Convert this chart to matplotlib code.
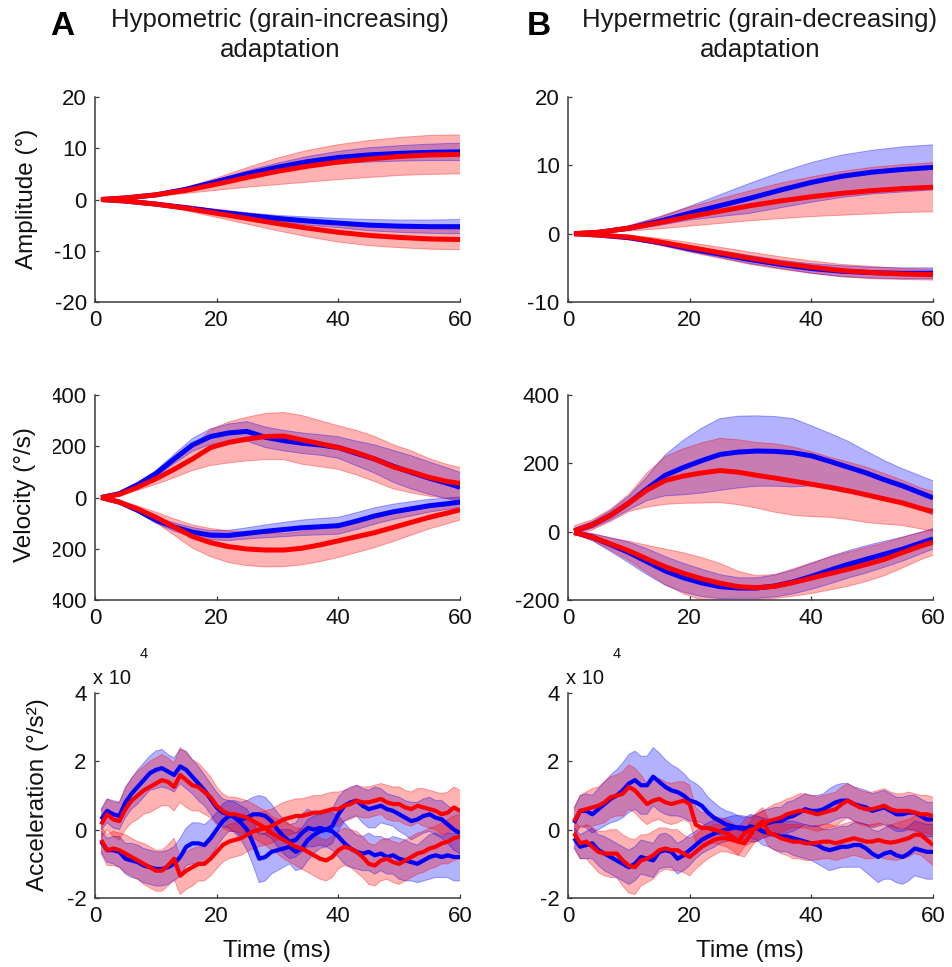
import numpy as np
import matplotlib
matplotlib.use("Agg")
import matplotlib.pyplot as plt
from matplotlib.patches import Rectangle

plt.rcParams['font.family'] = ['Liberation Sans', 'DejaVu Sans']
plt.rcParams['axes.unicode_minus'] = False

# ---------------------------------------------------------------- sample times (ms)
t_amp = [1, 5, 10, 15, 20, 25, 30, 35, 40, 45, 50, 55, 60]
t_vel = [1, 4, 7, 10, 13, 16, 19, 22, 25, 28, 31, 34, 37, 40, 43, 46, 49, 52, 55, 58, 60]
t_acc = list(range(1, 61))

# ---------------------------------------------------------------- amplitude (deg), column A
amp_a_up_blue = [0, 0.3, 0.9, 2.0, 3.5, 5.0, 6.3, 7.4, 8.2, 8.7, 9.0, 9.2, 9.3]
amp_a_up_blue_sd = [0.1, 0.15, 0.2, 0.3, 0.4, 0.6, 0.8, 1.0, 1.2, 1.4, 1.5, 1.6, 1.7]
amp_a_up_red = [0, 0.3, 0.9, 1.8, 3.0, 4.3, 5.5, 6.5, 7.3, 7.9, 8.4, 8.7, 8.8]
amp_a_up_red_sd = [0.1, 0.2, 0.3, 0.6, 1.2, 1.9, 2.6, 3.1, 3.4, 3.6, 3.7, 3.8, 3.8]
amp_a_dn_blue = [0, -0.3, -0.9, -1.6, -2.4, -3.1, -3.7, -4.2, -4.6, -5.0, -5.2, -5.3, -5.3]
amp_a_dn_blue_sd = [0.1, 0.1, 0.2, 0.3, 0.4, 0.5, 0.6, 0.8, 0.9, 1.1, 1.2, 1.3, 1.4]
amp_a_dn_red = [0, -0.3, -0.9, -1.7, -2.7, -3.7, -4.7, -5.6, -6.4, -7.0, -7.4, -7.7, -7.8]
amp_a_dn_red_sd = [0.1, 0.2, 0.3, 0.5, 0.8, 1.1, 1.4, 1.7, 1.9, 2.0, 2.0, 2.0, 2.0]

# ---------------------------------------------------------------- amplitude (deg), column B
amp_b_up_blue = [0, 0.2, 0.8, 1.8, 3.0, 4.1, 5.2, 6.4, 7.5, 8.4, 9.0, 9.4, 9.7]
amp_b_up_blue_sd = [0.1, 0.1, 0.3, 0.6, 1.0, 1.6, 2.2, 2.6, 2.9, 3.1, 3.2, 3.3, 3.3]
amp_b_up_red = [0, 0.2, 0.8, 1.6, 2.5, 3.3, 4.1, 4.8, 5.4, 5.9, 6.3, 6.6, 6.8]
amp_b_up_red_sd = [0.1, 0.1, 0.4, 0.9, 1.4, 1.8, 2.2, 2.6, 2.9, 3.2, 3.4, 3.5, 3.6]
amp_b_dn_blue = [0, -0.2, -0.6, -1.3, -2.2, -3.0, -3.8, -4.5, -5.1, -5.5, -5.7, -5.8, -5.8]
amp_b_dn_blue_sd = [0.1, 0.1, 0.2, 0.3, 0.4, 0.5, 0.6, 0.6, 0.7, 0.8, 0.8, 0.8, 0.8]
amp_b_dn_red = [0, -0.2, -0.5, -1.2, -2.0, -2.8, -3.6, -4.3, -4.9, -5.4, -5.7, -5.9, -6.0]
amp_b_dn_red_sd = [0.1, 0.1, 0.3, 0.5, 0.7, 0.8, 0.9, 0.9, 0.9, 0.9, 0.9, 0.8, 0.8]

# ---------------------------------------------------------------- velocity (deg/s), column A
vel_a_up_blue = [0, 15, 50, 93, 150, 205, 238, 252, 258, 235, 222, 212, 205, 195, 172, 150, 122, 98, 75, 55, 40]
vel_a_up_blue_sd = [3, 5, 8, 12, 18, 25, 30, 35, 38, 40, 40, 40, 40, 42, 48, 55, 62, 65, 63, 60, 58]
vel_a_up_red = [0, 12, 40, 73, 110, 150, 195, 215, 228, 238, 240, 225, 210, 195, 175, 150, 120, 100, 78, 62, 55]
vel_a_up_red_sd = [3, 6, 12, 22, 33, 45, 70, 80, 85, 90, 92, 95, 90, 85, 87, 88, 86, 82, 73, 66, 62]
vel_a_dn_blue = [0, -18, -50, -88, -115, -135, -147, -148, -140, -132, -125, -118, -114, -110, -92, -72, -56, -44, -32, -24, -18]
vel_a_dn_blue_sd = [3, 5, 8, 12, 16, 18, 18, 20, 22, 25, 28, 30, 32, 33, 33, 32, 30, 28, 25, 22, 20]
vel_a_dn_red = [0, -18, -45, -77, -115, -152, -176, -192, -201, -205, -205, -198, -185, -169, -153, -137, -117, -97, -77, -60, -48]
vel_a_dn_red_sd = [3, 6, 12, 20, 32, 45, 55, 62, 65, 66, 65, 65, 65, 65, 62, 58, 55, 50, 45, 42, 40]

# ---------------------------------------------------------------- velocity (deg/s), column B
vel_b_up_blue = [2, 20, 48, 84, 126, 165, 188, 208, 226, 233, 236, 235, 231, 222, 206, 189, 172, 152, 134, 113, 99]
vel_b_up_blue_sd = [8, 10, 14, 20, 35, 60, 80, 95, 105, 105, 103, 102, 100, 88, 82, 76, 64, 56, 50, 50, 50]
vel_b_up_red = [2, 20, 48, 84, 122, 150, 163, 172, 179, 174, 165, 157, 148, 139, 130, 120, 108, 96, 84, 68, 59]
vel_b_up_red_sd = [15, 15, 18, 25, 50, 70, 80, 88, 94, 95, 96, 100, 100, 95, 88, 84, 81, 74, 66, 60, 58]
vel_b_dn_blue = [-2, -16, -38, -61, -88, -115, -135, -150, -161, -165, -165, -159, -147, -131, -113, -96, -81, -66, -51, -33, -21]
vel_b_dn_blue_sd = [5, 10, 20, 30, 38, 42, 42, 40, 35, 30, 30, 32, 35, 38, 40, 40, 40, 38, 35, 32, 30]
vel_b_dn_red = [-2, -16, -36, -56, -80, -103, -122, -138, -151, -161, -164, -160, -149, -136, -123, -110, -96, -81, -61, -42, -31]
vel_b_dn_red_sd = [5, 10, 18, 28, 40, 52, 60, 62, 58, 45, 35, 35, 40, 45, 48, 50, 50, 48, 45, 40, 38]

# ---------------------------------------------------------------- acceleration (x 10^4 deg/s^2), column A
acc_a_up_blue = [0.3, 0.55, 0.45, 0.4, 0.8, 1.05, 1.25, 1.45, 1.65, 1.75,
                 1.8, 1.7, 1.6, 1.85, 1.75, 1.55, 1.35, 1.15, 0.9, 0.65,
                 0.5, 0.45, 0.35, 0.2, 0.0, -0.4, -0.85, -0.8, -0.65, -0.6,
                 -0.55, -0.5, -0.65, -0.55, -0.3, -0.15, -0.05, 0.0, -0.05, -0.2,
                 -0.4, -0.55, -0.65, -0.7, -0.65, -0.75, -0.7, -0.8, -0.75, -0.85,
                 -0.9, -0.95, -1.0, -0.9, -0.8, -0.75, -0.8, -0.75, -0.8, -0.8]
acc_a_up_blue_sd = [0.3, 0.35, 0.4, 0.4, 0.45, 0.45, 0.5, 0.5, 0.5, 0.55,
                    0.55, 0.5, 0.5, 0.5, 0.55, 0.5, 0.5, 0.45, 0.45, 0.45,
                    0.4, 0.4, 0.45, 0.5, 0.6, 0.65, 0.7, 0.7, 0.65, 0.6,
                    0.55, 0.5, 0.55, 0.6, 0.6, 0.55, 0.5, 0.5, 0.55, 0.6,
                    0.6, 0.55, 0.5, 0.5, 0.55, 0.55, 0.5, 0.5, 0.55, 0.6,
                    0.6, 0.55, 0.55, 0.6, 0.65, 0.65, 0.6, 0.65, 0.7, 0.7]
acc_a_up_red = [0.15, 0.45, 0.3, 0.25, 0.6, 0.85, 1.0, 1.15, 1.25, 1.35,
                1.45, 1.4, 1.25, 1.6, 1.45, 1.3, 1.25, 1.1, 0.95, 0.7,
                0.55, 0.45, 0.45, 0.4, 0.35, 0.25, 0.15, 0.05, -0.1, -0.2,
                -0.3, -0.4, -0.5, -0.55, -0.65, -0.75, -0.85, -0.9, -0.8, -0.6,
                -0.5, -0.55, -0.65, -0.8, -1.0, -1.05, -0.9, -0.85, -0.95, -1.0,
                -0.9, -0.8, -0.7, -0.65, -0.55, -0.5, -0.4, -0.35, -0.25, -0.2]
acc_a_up_red_sd = [0.4, 0.45, 0.5, 0.55, 0.6, 0.65, 0.7, 0.7, 0.75, 0.75,
                   0.75, 0.7, 0.7, 0.8, 0.8, 0.75, 0.7, 0.65, 0.6, 0.55,
                   0.5, 0.5, 0.5, 0.5, 0.5, 0.5, 0.5, 0.5, 0.5, 0.5,
                   0.55, 0.55, 0.55, 0.6, 0.6, 0.6, 0.6, 0.6, 0.6, 0.55,
                   0.55, 0.55, 0.6, 0.6, 0.6, 0.6, 0.6, 0.6, 0.6, 0.6,
                   0.6, 0.6, 0.6, 0.6, 0.6, 0.6, 0.6, 0.65, 0.65, 0.65]
acc_a_dn_blue = [-0.35, -0.6, -0.6, -0.65, -0.85, -0.9, -0.95, -1.05, -1.1, -1.15,
                 -1.15, -1.1, -1.0, -0.8, -0.5, -0.4, -0.4, -0.45, -0.25, 0.0,
                 0.25, 0.4, 0.4, 0.3, 0.35, 0.45, 0.45, 0.4, 0.25, 0.0,
                 -0.2, -0.35, -0.3, -0.1, 0.05, 0.0, 0.05, 0.0, 0.1, 0.45,
                 0.7, 0.8, 0.85, 0.7, 0.6, 0.65, 0.7, 0.6, 0.55, 0.45,
                 0.35, 0.25, 0.3, 0.4, 0.45, 0.35, 0.3, 0.15, 0.0, -0.1]
acc_a_dn_blue_sd = [0.3, 0.35, 0.4, 0.45, 0.45, 0.5, 0.5, 0.5, 0.5, 0.5,
                    0.5, 0.5, 0.5, 0.55, 0.55, 0.6, 0.6, 0.6, 0.55, 0.5,
                    0.5, 0.45, 0.45, 0.5, 0.5, 0.5, 0.55, 0.55, 0.5, 0.5,
                    0.5, 0.5, 0.5, 0.55, 0.55, 0.5, 0.5, 0.5, 0.5, 0.5,
                    0.45, 0.45, 0.45, 0.5, 0.55, 0.6, 0.5, 0.45, 0.45, 0.5,
                    0.5, 0.55, 0.5, 0.5, 0.5, 0.5, 0.55, 0.55, 0.6, 0.6]
acc_a_dn_red = [-0.3, -0.6, -0.55, -0.6, -0.7, -0.8, -0.9, -1.0, -1.1, -1.2,
                -1.2, -1.05, -0.85, -1.35, -1.2, -1.1, -1.0, -1.0, -0.85, -0.65,
                -0.45, -0.35, -0.3, -0.25, -0.15, -0.05, 0.0, 0.05, 0.1, 0.2,
                0.3, 0.35, 0.4, 0.4, 0.45, 0.5, 0.5, 0.55, 0.6, 0.6,
                0.7, 0.75, 0.85, 0.8, 0.8, 0.85, 0.9, 0.8, 0.75, 0.75,
                0.65, 0.6, 0.7, 0.65, 0.6, 0.55, 0.45, 0.5, 0.65, 0.55]
acc_a_dn_red_sd = [0.4, 0.45, 0.5, 0.5, 0.55, 0.55, 0.55, 0.6, 0.6, 0.6,
                   0.6, 0.6, 0.6, 0.55, 0.55, 0.55, 0.5, 0.5, 0.5, 0.5,
                   0.5, 0.5, 0.5, 0.5, 0.5, 0.5, 0.5, 0.5, 0.5, 0.5,
                   0.5, 0.5, 0.5, 0.5, 0.5, 0.5, 0.5, 0.5, 0.5, 0.5,
                   0.45, 0.45, 0.45, 0.45, 0.45, 0.45, 0.45, 0.5, 0.5, 0.5,
                   0.5, 0.5, 0.5, 0.55, 0.55, 0.55, 0.6, 0.6, 0.6, 0.6]

# ---------------------------------------------------------------- acceleration (x 10^4 deg/s^2), column B
acc_b_up_blue = [0.2, 0.55, 0.55, 0.45, 0.6, 0.75, 0.9, 1.0, 1.15, 1.35,
                 1.45, 1.3, 1.3, 1.55, 1.4, 1.25, 1.15, 1.1, 1.0, 0.85,
                 0.8, 0.7, 0.5, 0.35, 0.25, 0.15, 0.1, 0.05, 0.0, 0.1,
                 0.05, -0.05, -0.1, -0.15, -0.2, -0.2, -0.25, -0.3, -0.35, -0.4,
                 -0.45, -0.55, -0.6, -0.55, -0.5, -0.5, -0.45, -0.45, -0.55, -0.7,
                 -0.8, -0.7, -0.65, -0.75, -0.8, -0.7, -0.55, -0.6, -0.65, -0.65]
acc_b_up_blue_sd = [0.4, 0.45, 0.5, 0.55, 0.6, 0.65, 0.7, 0.75, 0.8, 0.85,
                    0.85, 0.85, 0.85, 0.85, 0.85, 0.8, 0.75, 0.7, 0.65, 0.6,
                    0.55, 0.5, 0.45, 0.45, 0.4, 0.4, 0.4, 0.35, 0.35, 0.35,
                    0.35, 0.4, 0.4, 0.45, 0.45, 0.45, 0.5, 0.5, 0.5, 0.5,
                    0.55, 0.55, 0.6, 0.6, 0.6, 0.6, 0.65, 0.65, 0.7, 0.7,
                    0.75, 0.75, 0.8, 0.8, 0.8, 0.8, 0.8, 0.8, 0.8, 0.8]
acc_b_up_red = [0.25, 0.55, 0.6, 0.65, 0.7, 0.8, 0.95, 1.0, 1.05, 1.25,
                1.15, 0.95, 0.75, 0.85, 0.9, 0.8, 0.75, 0.8, 0.85, 0.75,
                0.15, 0.05, 0.05, 0.0, -0.05, -0.1, -0.2, -0.35, -0.4, -0.15,
                0.1, 0.25, -0.1, -0.15, -0.25, -0.3, -0.35, -0.35, -0.4, -0.4,
                -0.38, -0.35, -0.35, -0.4, -0.35, -0.3, -0.25, -0.3, -0.35, -0.35,
                -0.3, -0.35, -0.38, -0.35, -0.3, -0.25, -0.15, -0.15, -0.3, -0.45]
acc_b_up_red_sd = [0.4, 0.45, 0.5, 0.55, 0.55, 0.6, 0.6, 0.6, 0.65, 0.65,
                   0.65, 0.65, 0.6, 0.6, 0.6, 0.6, 0.6, 0.6, 0.55, 0.55,
                   0.5, 0.45, 0.45, 0.4, 0.4, 0.4, 0.4, 0.4, 0.4, 0.4,
                   0.4, 0.4, 0.4, 0.45, 0.45, 0.45, 0.5, 0.5, 0.5, 0.5,
                   0.5, 0.5, 0.5, 0.5, 0.5, 0.5, 0.5, 0.5, 0.5, 0.5,
                   0.5, 0.5, 0.5, 0.55, 0.55, 0.55, 0.55, 0.6, 0.6, 0.6]
acc_b_dn_blue = [-0.25, -0.5, -0.45, -0.4, -0.6, -0.7, -0.8, -0.9, -1.0, -1.1,
                 -1.0, -0.8, -0.85, -0.9, -0.65, -0.6, -0.65, -0.85, -0.75, -0.6,
                 -0.45, -0.3, -0.2, -0.12, -0.05, 0.0, 0.05, 0.07, 0.05, 0.0,
                 0.05, 0.15, 0.2, 0.25, 0.25, 0.35, 0.4, 0.5, 0.6, 0.55,
                 0.55, 0.6, 0.7, 0.8, 0.85, 0.85, 0.75, 0.7, 0.65, 0.55,
                 0.6, 0.65, 0.55, 0.45, 0.45, 0.5, 0.5, 0.4, 0.3, 0.3]
acc_b_dn_blue_sd = [0.3, 0.35, 0.4, 0.45, 0.45, 0.5, 0.5, 0.5, 0.5, 0.5,
                    0.5, 0.5, 0.5, 0.5, 0.5, 0.5, 0.45, 0.45, 0.45, 0.45,
                    0.4, 0.4, 0.4, 0.4, 0.35, 0.35, 0.35, 0.35, 0.35, 0.35,
                    0.4, 0.4, 0.4, 0.4, 0.4, 0.45, 0.45, 0.45, 0.45, 0.45,
                    0.45, 0.45, 0.5, 0.5, 0.5, 0.5, 0.5, 0.5, 0.5, 0.5,
                    0.5, 0.5, 0.5, 0.5, 0.5, 0.5, 0.5, 0.5, 0.5, 0.5]
acc_b_dn_red = [-0.1, -0.4, -0.35, -0.5, -0.65, -0.7, -0.7, -0.7, -0.9, -1.05,
                -1.1, -0.9, -0.85, -0.75, -0.6, -0.55, -0.6, -0.6, -0.7, -0.8,
                -0.65, -0.5, -0.4, -0.3, -0.25, -0.25, -0.3, -0.35, -0.1, 0.0,
                0.05, 0.15, 0.25, 0.3, 0.35, 0.45, 0.5, 0.55, 0.55, 0.5,
                0.45, 0.5, 0.55, 0.6, 0.75, 0.85, 0.75, 0.65, 0.6, 0.6,
                0.65, 0.7, 0.6, 0.55, 0.55, 0.55, 0.5, 0.45, 0.45, 0.4]
acc_b_dn_red_sd = [0.4, 0.45, 0.5, 0.55, 0.6, 0.65, 0.7, 0.7, 0.75, 0.8,
                   0.8, 0.75, 0.7, 0.7, 0.65, 0.6, 0.6, 0.6, 0.55, 0.55,
                   0.5, 0.5, 0.45, 0.45, 0.4, 0.4, 0.4, 0.4, 0.4, 0.4,
                   0.4, 0.4, 0.4, 0.45, 0.45, 0.45, 0.45, 0.5, 0.5, 0.5,
                   0.5, 0.5, 0.5, 0.5, 0.5, 0.5, 0.5, 0.5, 0.5, 0.5,
                   0.5, 0.5, 0.5, 0.5, 0.5, 0.55, 0.55, 0.55, 0.55, 0.55]

# ---------------------------------------------------------------- axes and text
column_titles = [("Hypometric (grain-increasing)", "adaptation"),
                 ("Hypermetric (grain-decreasing)", "adaptation")]
column_letters = ["A", "B"]
row_labels = ["Amplitude (\u00b0)", "Velocity (\u00b0/s)", "Acceleration (\u00b0/s\u00b2)"]
x_label = "Time (ms)"
x_ticks = [0, 20, 40, 60]
y_ticks = {
    (0, 0): [-20, -10, 0, 10, 20], (0, 1): [-10, 0, 10, 20],
    (1, 0): [-400, -200, 0, 200, 400], (1, 1): [-200, 0, 200, 400],
    (2, 0): [-2, 0, 2, 4], (2, 1): [-2, 0, 2, 4],
}

BLUE = "#0000ff"
RED = "#ff0000"

panels = {
    (0, 0): (t_amp, [(amp_a_up_blue, amp_a_up_blue_sd, BLUE), (amp_a_dn_blue, amp_a_dn_blue_sd, BLUE),
                     (amp_a_up_red, amp_a_up_red_sd, RED), (amp_a_dn_red, amp_a_dn_red_sd, RED)]),
    (0, 1): (t_amp, [(amp_b_up_blue, amp_b_up_blue_sd, BLUE), (amp_b_dn_blue, amp_b_dn_blue_sd, BLUE),
                     (amp_b_up_red, amp_b_up_red_sd, RED), (amp_b_dn_red, amp_b_dn_red_sd, RED)]),
    (1, 0): (t_vel, [(vel_a_up_blue, vel_a_up_blue_sd, BLUE), (vel_a_dn_blue, vel_a_dn_blue_sd, BLUE),
                     (vel_a_up_red, vel_a_up_red_sd, RED), (vel_a_dn_red, vel_a_dn_red_sd, RED)]),
    (1, 1): (t_vel, [(vel_b_up_blue, vel_b_up_blue_sd, BLUE), (vel_b_dn_blue, vel_b_dn_blue_sd, BLUE),
                     (vel_b_up_red, vel_b_up_red_sd, RED), (vel_b_dn_red, vel_b_dn_red_sd, RED)]),
    (2, 0): (t_acc, [(acc_a_up_blue, acc_a_up_blue_sd, BLUE), (acc_a_dn_blue, acc_a_dn_blue_sd, BLUE),
                     (acc_a_up_red, acc_a_up_red_sd, RED), (acc_a_dn_red, acc_a_dn_red_sd, RED)]),
    (2, 1): (t_acc, [(acc_b_up_blue, acc_b_up_blue_sd, BLUE), (acc_b_dn_blue, acc_b_dn_blue_sd, BLUE),
                     (acc_b_up_red, acc_b_up_red_sd, RED), (acc_b_dn_red, acc_b_dn_red_sd, RED)]),
}

W, H = 953, 967
fig = plt.figure(figsize=(W / 100, H / 100), dpi=100)
fig.patch.set_facecolor("white")

col_left = [95, 568]
col_width = 365
row_top = [97, 395, 693]
row_height = 205

AX_COLOR = "#3a3a3a"


def px_to_fig(x, y):
    return x / W, 1 - y / H


axes = {}
for r in range(3):
    for c in range(2):
        x0, y1 = px_to_fig(col_left[c], row_top[r] + row_height)
        ax = fig.add_axes([x0, y1, col_width / W, row_height / H])
        axes[(r, c)] = ax
        t, traces = panels[(r, c)]
        t = np.asarray(t, dtype=float)
        lw = 3.0 if r == 2 else 3.6
        # shaded spread: blue first, red on top
        for mean, sd, color in sorted(traces, key=lambda tr: tr[2] == RED):
            m = np.asarray(mean, dtype=float)
            s = np.asarray(sd, dtype=float)
            ax.fill_between(t, m - s, m + s, facecolor=color, alpha=0.3,
                            edgecolor="none", zorder=1)
            ax.plot(t, m - s, color=color, alpha=0.35, lw=0.7, zorder=1.5)
            ax.plot(t, m + s, color=color, alpha=0.35, lw=0.7, zorder=1.5)
        for mean, sd, color in sorted(traces, key=lambda tr: tr[2] == RED):
            ax.plot(t, mean, color=color, lw=lw, solid_capstyle="butt",
                    zorder=3 if color == RED else 2.5)

        yt = y_ticks[(r, c)]
        ax.set_xlim(0, 60)
        ax.set_ylim(yt[0], yt[-1])
        ax.set_xticks(x_ticks)
        ax.set_yticks(yt)
        for side in ("top", "right"):
            ax.spines[side].set_visible(False)
        for side in ("left", "bottom"):
            ax.spines[side].set_color(AX_COLOR)
            ax.spines[side].set_linewidth(1.1)
        ax.tick_params(direction="in", length=3, width=0.9, color=AX_COLOR,
                       labelsize=16, labelcolor="#111111", pad=6)
        ax.set_facecolor("none")

# white strip that hides the outer part of the velocity tick labels (column A)
fig.add_artist(Rectangle((0, 1 - 615 / H), 53 / W, 235 / H, transform=fig.transFigure,
                         facecolor="white", edgecolor="none", zorder=1))

# row labels (left column)
label_pos = [(27, 199), (25, 495), (38, 795)]
for (lx, ly), text in zip(label_pos, row_labels):
    fx, fy = px_to_fig(lx, ly)
    fig.text(fx, fy, text, rotation=90, ha="center", va="center",
             fontsize=17.5, color="#111111", zorder=3)

# x labels
for cx in (277, 750):
    fx, fy = px_to_fig(cx, 957)
    fig.text(fx, fy, x_label, ha="center", va="baseline", fontsize=17.5, color="#111111")

# exponent markers above the acceleration axes
for c in range(2):
    fx, fy = px_to_fig(col_left[c] - 2, 684)
    fig.text(fx, fy, "x 10", ha="left", va="baseline", fontsize=14.5, color="#111111")
    fx, fy = px_to_fig(col_left[c] + 45, 658)
    fig.text(fx, fy, "4", ha="left", va="baseline", fontsize=10.5, color="#111111")

# column titles and letters
title_cx = [280, 760]
letter_x = [50, 527]
for c in range(2):
    l1, l2 = column_titles[c]
    fx, fy = px_to_fig(title_cx[c], 27)
    fig.text(fx, fy, l1, ha="center", va="baseline", fontsize=18.5, color="#1a1a1a")
    fx, fy = px_to_fig(title_cx[c], 57)
    fig.text(fx, fy, l2, ha="center", va="baseline", fontsize=18.5, color="#1a1a1a")
    fx, fy = px_to_fig(letter_x[c], 35)
    fig.text(fx, fy, column_letters[c], ha="left", va="baseline", fontsize=24,
             fontweight="bold", color="black")

fig.savefig("out.png", dpi=100, facecolor="white")
